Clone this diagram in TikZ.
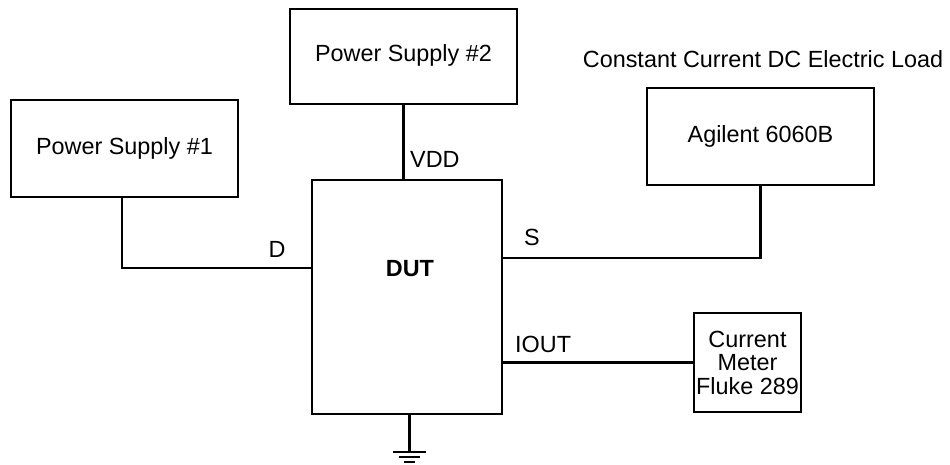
\documentclass[tikz,border=0pt]{standalone}
\usepackage{fontspec}
\setmainfont{Liberation Sans}
\begin{document}
\begin{tikzpicture}[x=1pt, y=-1pt,
    box/.style={draw, line width=2.2pt, inner sep=0pt, align=center, font=\fontsize{23.4}{23.5}\selectfont},
    lbl/.style={inner sep=0pt, font=\fontsize{23.4}{28}\selectfont},
    wire/.style={line width=2.2pt}]
    \useasboundingbox (0,0) rectangle (950,464);

    % Instruments
    \node[box, minimum width=227pt, minimum height=97pt, text depth=4pt] (ps1) at (124.5,148.5) {Power Supply \#1};
    \node[box, minimum width=227pt, minimum height=95pt, text depth=7pt] (ps2) at (403.5,56.5) {Power Supply \#2};
    \node[box, minimum width=227pt, minimum height=97pt] (load) at (760.5,136.5) {Agilent 6060B};
    \node[lbl, anchor=base] (loadtitle) at (763,67) {Constant Current DC Electric Load};
    \node[box, minimum width=107pt, minimum height=99pt] (meter) at (747.5,362.5) {Current\\Meter\\Fluke 289};

    % Device under test
    \node[box, minimum width=190pt, minimum height=234pt] (dut) at (407,297) {};
    \node[lbl, anchor=base, font=\fontsize{23.4}{28}\selectfont\bfseries] (dutname) at (410,276) {DUT};

    % Pins
    \coordinate (dpin) at (dut.west |- 0,268);
    \coordinate (spin) at (dut.east |- 0,258);
    \coordinate (gnd) at (409.5,452);

    % Connections
    \draw[wire] ([xshift=-2.5pt]ps1.south) |- (dpin);
    \draw[wire] (ps2.south) -- (ps2.south |- dut.north);
    \draw[wire] (load.south) |- (spin);
    \draw[wire] (dut.east |- meter.west) -- (meter.west);

    % Ground
    \draw[wire] (dut.south -| gnd) -- (gnd);
    \draw[wire] ([xshift=-16.5pt]gnd) -- ([xshift=16.5pt]gnd);
    \draw[wire] ([shift={(-10.5,5)}]gnd) -- ([shift={(10.5,5)}]gnd);
    \draw[wire] ([shift={(-5.5,10)}]gnd) -- ([shift={(5.5,10)}]gnd);

    % Pin names
    \node[lbl, anchor=base] (dname) at (277,257) {D};
    \node[lbl, anchor=base west] (vddname) at (410,167) {VDD};
    \node[lbl, anchor=base] (sname) at (532,245) {S};
    \node[lbl, anchor=base west] (ioutname) at (515,352) {IOUT};
\end{tikzpicture}
\end{document}
